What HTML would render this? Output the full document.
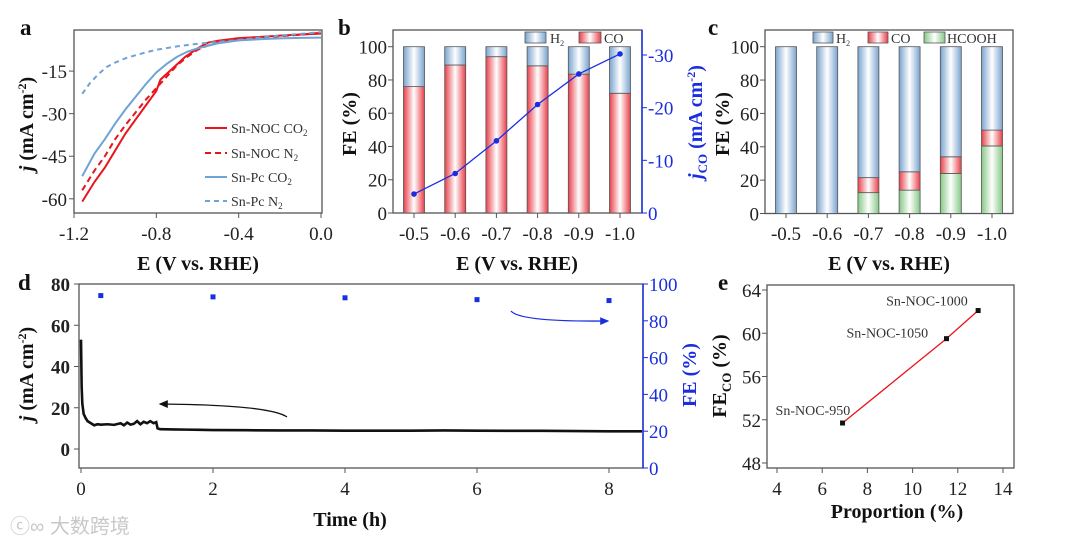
<!DOCTYPE html>
<html><head><meta charset="utf-8"><style>
body{margin:0;background:#fff;}
svg{display:block;font-family:"Liberation Serif",serif;}
.tk{font-size:19px;fill:#222;}
.tt{font-size:20px;font-weight:bold;fill:#111;}
.pl{font-size:23px;font-weight:bold;fill:#111;}
</style></head><body>
<svg id="fig" width="1080" height="546" viewBox="0 0 1080 546">
<defs>
<linearGradient id="gR" x1="0" x2="1"><stop offset="0" stop-color="#e8404a"/><stop offset="0.5" stop-color="#fff"/><stop offset="1" stop-color="#e8404a"/></linearGradient>
<linearGradient id="gB" x1="0" x2="1"><stop offset="0" stop-color="#7aa4cf"/><stop offset="0.5" stop-color="#fff"/><stop offset="1" stop-color="#7aa4cf"/></linearGradient>
<linearGradient id="gG" x1="0" x2="1"><stop offset="0" stop-color="#86c886"/><stop offset="0.5" stop-color="#fff"/><stop offset="1" stop-color="#86c886"/></linearGradient>
<marker id="ahK" markerWidth="8" markerHeight="8" refX="6" refY="4" orient="auto"><path d="M0,1 L7,4 L0,7 Z" fill="#111"/></marker>
<marker id="ahB" markerWidth="8" markerHeight="8" refX="6" refY="4" orient="auto"><path d="M0,1 L7,4 L0,7 Z" fill="#1a2ee0"/></marker>
</defs>
</svg>
<script>
// ---- Panel a data ----
const aE_nocCO2=[-1.16,-1.1,-1.05,-1.0,-0.95,-0.9,-0.85,-0.8,-0.78,-0.72,-0.66,-0.6,-0.55,-0.5,-0.4,-0.3,-0.2,-0.1,0];
const aJ_nocCO2=[-61,-54,-49,-43,-37,-32,-27,-22,-18,-14,-10,-7,-5,-4.3,-3.4,-3,-2.5,-2.1,-1.8];
const aE_nocN2=[-1.16,-1.1,-1.05,-1.0,-0.95,-0.9,-0.85,-0.8,-0.75,-0.7,-0.65,-0.6,-0.55,-0.5,-0.4,-0.3,-0.2,-0.1,0];
const aJ_nocN2=[-57,-50,-45,-39,-34,-29.5,-25,-21,-17,-13,-10,-7.5,-6,-5,-4,-3.3,-2.7,-2.2,-1.5];
const aE_pcCO2=[-1.16,-1.1,-1.05,-1.0,-0.95,-0.9,-0.85,-0.8,-0.75,-0.7,-0.65,-0.6,-0.5,-0.4,-0.3,-0.2,-0.1,0];
const aJ_pcCO2=[-52,-44,-39,-33.5,-28.5,-24,-19.5,-15.5,-12.5,-10,-8.2,-7,-5.2,-4.2,-3.8,-3.5,-3.3,-3.2];
const aE_pcN2=[-1.16,-1.12,-1.08,-1.04,-1.0,-0.95,-0.9,-0.85,-0.8,-0.7,-0.6,-0.5,-0.4,-0.3,-0.2,-0.1,0];
const aJ_pcN2=[-23,-19,-16,-13.5,-12,-10.5,-9.4,-8.4,-7.5,-6.3,-5.4,-4.7,-4,-3.2,-2.5,-1.9,-1.3];
const aXTicks=[-1.2,-0.8,-0.4,0.0];
const aXLabels=["-1.2","-0.8","-0.4","0.0"];
const aYTicks=[-15,-30,-45,-60];
// ---- Panel b data ----
const bCats=["-0.5","-0.6","-0.7","-0.8","-0.9","-1.0"];
const bCO=[76,89,94,88.5,83.5,72];
const bH2=[24,11,6,11.5,16.5,28];
const bJco=[3.6,7.5,13.7,20.6,26.4,30.2];
const bYTicks=[0,20,40,60,80,100];
const bRTicks=[0,10,20,30];
const bRLabels=["0","-10","-20","-30"];
// ---- Panel c data ----
const cCats=["-0.5","-0.6","-0.7","-0.8","-0.9","-1.0"];
const cHCOOH=[0,0,12.5,14,24,40.5];
const cCO=[0,0,9,11,10,9.5];
const cH2=[100,100,78.5,75,66,50];
// ---- Panel d data ----
const dTime=[0,0.01,0.02,0.04,0.07,0.1,0.15,0.2,0.25,0.3,0.4,0.5,0.6,0.65,0.7,0.75,0.8,0.85,0.9,0.95,1.0,1.05,1.1,1.14,1.16,1.2,1.4,1.6,1.8,2.0,2.5,3,3.5,4,4.5,5,5.5,6,6.5,7,7.5,8,8.5];
const dJ=[53,30,22,17,15,13.5,12.5,11.5,12,11.8,12,11.7,12.5,11.5,12.8,11.8,12.2,13.5,12,13.2,12.5,13.5,12.5,13,10,9.6,9.5,9.4,9.3,9.2,9.1,9.0,9.0,8.9,8.9,8.9,9.0,8.9,8.8,8.8,8.7,8.6,8.6];
const dFEt=[0.3,2,4,6,8];
const dFE=[93.7,93,92.5,91.5,91];
const dXTicks=[0,2,4,6,8];
const dYTicks=[0,20,40,60,80];
const dRTicks=[0,20,40,60,80,100];
// ---- Panel e data ----
const eX=[6.9,11.5,12.9];
const eY=[51.7,59.5,62.1];
const eNames=["Sn-NOC-950","Sn-NOC-1050","Sn-NOC-1000"];
const eXTicks=[4,6,8,10,12,14];
const eYTicks=[48,52,56,60,64];

const svg=document.getElementById('fig');
const NS='http://www.w3.org/2000/svg';
function mk(tag,attrs,parent){const e=document.createElementNS(NS,tag);for(const k in attrs)e.setAttribute(k,attrs[k]);(parent||svg).appendChild(e);return e;}
function lin(d0,d1,r0,r1){return v=>r0+(v-d0)/(d1-d0)*(r1-r0);}
function txt(s,x,y,cls,anchor,parent){const t=mk('text',{x:x,y:y,class:cls,'text-anchor':anchor||'middle'},parent);t.textContent=s;return t;}
function grp(){return mk('g',{});}

// ---------- Panel a ----------
{
const g=grp();


const X=lin(-1.2,0,74,321), Y=lin(0,-65,28.5,213);
const box=mk('rect',{x:74,y:30,width:248,height:183,fill:'none',stroke:'#555','stroke-width':1.3},g);


aXTicks.forEach((v,i)=>{mk('line',{x1:X(v),x2:X(v),y1:213,y2:218,stroke:'#555'},g);
 const t=txt(aXLabels[i],X(v),240,'tk','middle',g);});
aYTicks.forEach(v=>{mk('line',{x1:69,x2:74,y1:Y(v),y2:Y(v),stroke:'#555'},g);
 const t=txt(String(v),67,Y(v)+7,'tk','end',g);});
const series=[[aE_nocCO2,aJ_nocCO2,'#e8141c',''],[aE_nocN2,aJ_nocN2,'#e8141c','6,4'],[aE_pcCO2,aJ_pcCO2,'#6fa3d4',''],[aE_pcN2,aJ_pcN2,'#6fa3d4','5,4']];
const names=['line-sn-noc-co2','line-sn-noc-n2','line-sn-pc-co2','line-sn-pc-n2'];
series.forEach((s,i)=>{const p=mk('polyline',{points:s[0].map((e,k)=>X(e)+','+Y(s[1][k])).join(' '),fill:'none',stroke:s[2],'stroke-width':2,'stroke-dasharray':s[3]},g);
 });
const leg=['Sn-NOC CO','Sn-NOC N','Sn-Pc CO','Sn-Pc N'],subs=['2','2','2','2'],ly=[128,153,177,201];
leg.forEach((l,i)=>{mk('line',{x1:205,x2:227,y1:ly[i],y2:ly[i],stroke:series[i][2],'stroke-width':2,'stroke-dasharray':series[i][3]},g);
 const t=mk('text',{x:231,y:ly[i]+5,'font-size':14,fill:'#333'},g);t.innerHTML=l+'<tspan font-size="9" dy="3">'+subs[i]+'</tspan>';
 });
const xt=txt('E (V vs. RHE)',198,270,'tt','middle',g);
const yt=mk('text',{transform:'translate(33,124) rotate(-90)','text-anchor':'middle',class:'tt'},g);
yt.innerHTML='<tspan font-style="italic">j</tspan> (mA cm<tspan font-size="12" dy="-7">-2</tspan><tspan dy="7">)</tspan>';

const pl=txt('a',20,35,'pl','start',g);
}

// ---------- Panel b ----------
{
const g=grp();


const Y=lin(0,100,213,46.7), YR=lin(0,30,213,55);
const X=i=>414+i*41.2, w=21;
const box=mk('rect',{x:393,y:30,width:249,height:183,fill:'none',stroke:'#555','stroke-width':1.3},g);

mk('line',{x1:642,x2:642,y1:30,y2:213,stroke:'#1a2ee0','stroke-width':1.5},g);
bYTicks.forEach(v=>{mk('line',{x1:388,x2:393,y1:Y(v),y2:Y(v),stroke:'#555'},g);
 const t=txt(String(v),387,Y(v)+7,'tk','end',g);});
bRTicks.forEach((v,i)=>{mk('line',{x1:642,x2:647,y1:YR(v),y2:YR(v),stroke:'#1a2ee0'},g);
 const t=txt(bRLabels[i],648,YR(v)+7,'tk','start',g);t.style.fill='#1a2ee0';});
bCats.forEach((c,i)=>{
 const r1=mk('rect',{x:X(i)-w/2,y:Y(bCO[i]),width:w,height:Y(0)-Y(bCO[i]),fill:'url(#gR)',stroke:'#555','stroke-width':0.8},g);
 
 const r2=mk('rect',{x:X(i)-w/2,y:Y(bCO[i]+bH2[i]),width:w,height:Y(bCO[i])-Y(bCO[i]+bH2[i]),fill:'url(#gB)',stroke:'#555','stroke-width':0.8},g);
 
 mk('line',{x1:X(i),x2:X(i),y1:213,y2:218,stroke:'#555'},g);
 const t=txt(c,X(i),240,'tk','middle',g);});
const ln=mk('polyline',{points:bJco.map((v,i)=>X(i)+','+YR(v)).join(' '),fill:'none',stroke:'#1a2ee0','stroke-width':1.3},g);

bJco.forEach((v,i)=>{const c=mk('circle',{cx:X(i),cy:YR(v),r:2.8,fill:'#1a2ee0'},g);});
mk('rect',{x:525,y:32,width:21,height:11,fill:'url(#gB)',stroke:'#555','stroke-width':0.8},g);
const l1=mk('text',{x:550,y:43,'font-size':14,fill:'#333'},g);l1.innerHTML='H<tspan font-size="8" dy="3">2</tspan>';

mk('rect',{x:579,y:32,width:22,height:11,fill:'url(#gR)',stroke:'#555','stroke-width':0.8},g);
const l2=mk('text',{x:604,y:43,'font-size':14,fill:'#333'},g);l2.textContent='CO';

const xt=txt('E (V vs. RHE)',517,270,'tt','middle',g);
const yt=mk('text',{transform:'translate(356,124) rotate(-90)','text-anchor':'middle',class:'tt'},g);yt.textContent='FE (%)';

const rt=mk('text',{transform:'translate(702,122) rotate(-90)','text-anchor':'middle',class:'tt',style:'fill:#1a2ee0'},g);
rt.innerHTML='<tspan font-style="italic">j</tspan><tspan font-size="13" dy="5">CO</tspan><tspan dy="-5"> (mA cm</tspan><tspan font-size="12" dy="-7">-2</tspan><tspan dy="7">)</tspan>';

const pl=txt('b',338,35,'pl','start',g);
}

// ---------- Panel c ----------
{
const g=grp();


const Y=lin(0,100,213.5,46.7);
const X=i=>786+i*41.2, w=21;
const box=mk('rect',{x:765,y:30,width:248,height:183.5,fill:'none',stroke:'#555','stroke-width':1.3},g);

bYTicks.forEach(v=>{mk('line',{x1:760,x2:765,y1:Y(v),y2:Y(v),stroke:'#555'},g);
 const t=txt(String(v),759,Y(v)+7,'tk','end',g);});
cCats.forEach((c,i)=>{
 const segs=[[0,cHCOOH[i],'url(#gG)','hcooh'],[cHCOOH[i],cHCOOH[i]+cCO[i],'url(#gR)','co'],[cHCOOH[i]+cCO[i],cHCOOH[i]+cCO[i]+cH2[i],'url(#gB)','h2']];
 segs.forEach(s=>{if(s[1]-s[0]<=0)return;
  const r=mk('rect',{x:X(i)-w/2,y:Y(s[1]),width:w,height:Y(s[0])-Y(s[1]),fill:s[2],stroke:'#555','stroke-width':0.8},g);
  });
 mk('line',{x1:X(i),x2:X(i),y1:213.5,y2:218,stroke:'#555'},g);
 const t=txt(c,X(i),240,'tk','middle',g);});
mk('rect',{x:813,y:32,width:20,height:11,fill:'url(#gB)',stroke:'#555','stroke-width':0.8},g);
const l1=mk('text',{x:836,y:43,'font-size':14,fill:'#333'},g);l1.innerHTML='H<tspan font-size="8" dy="3">2</tspan>';

mk('rect',{x:868,y:32,width:20,height:11,fill:'url(#gR)',stroke:'#555','stroke-width':0.8},g);
const l2=mk('text',{x:891,y:43,'font-size':14,fill:'#333'},g);l2.textContent='CO';

mk('rect',{x:924,y:32,width:21,height:11,fill:'url(#gG)',stroke:'#555','stroke-width':0.8},g);
const l3=mk('text',{x:947,y:43,'font-size':14,fill:'#333'},g);l3.textContent='HCOOH';

const xt=txt('E (V vs. RHE)',889,270,'tt','middle',g);
const yt=mk('text',{transform:'translate(729,124) rotate(-90)','text-anchor':'middle',class:'tt'},g);yt.textContent='FE (%)';

const pl=txt('c',708,35,'pl','start',g);
}

// ---------- Panel d ----------
{
const g=grp();


const X=lin(0,8,81,609), Y=lin(0,80,449,284), YR=lin(0,100,468,284);
const box=mk('rect',{x:79,y:284,width:564,height:184,fill:'none',stroke:'#555','stroke-width':1.3},g);

mk('line',{x1:643,x2:643,y1:284,y2:468,stroke:'#1a2ee0','stroke-width':1.5},g);
dXTicks.forEach(v=>{mk('line',{x1:X(v),x2:X(v),y1:468,y2:473,stroke:'#555'},g);
 const t=txt(String(v),X(v),495,'tk','middle',g);});
dYTicks.forEach(v=>{mk('line',{x1:74,x2:79,y1:Y(v),y2:Y(v),stroke:'#555'},g);
 const t=txt(String(v),70,Y(v)+7,'tk','end',g);t.setAttribute('font-weight','bold');});
dRTicks.forEach(v=>{mk('line',{x1:643,x2:648,y1:YR(v),y2:YR(v),stroke:'#1a2ee0'},g);
 const t=txt(String(v),649,YR(v)+7,'tk','start',g);t.style.fill='#1a2ee0';});
const ln=mk('polyline',{points:dTime.map((t,i)=>X(t)+','+Y(dJ[i])).join(' '),fill:'none',stroke:'#111','stroke-width':2.6},g);

dFEt.forEach((t,i)=>{const r=mk('rect',{x:X(t)-2.5,y:YR(dFE[i])-2.5,width:5,height:5,fill:'#1a2ee0'},g);
 });
const a1=mk('path',{d:'M287,417 Q270,405 160,404',fill:'none',stroke:'#111','stroke-width':1.3,'marker-end':'url(#ahK)'},g);

const a2=mk('path',{d:'M511,311 Q520,322 608,321',fill:'none',stroke:'#1a2ee0','stroke-width':1.3,'marker-end':'url(#ahB)'},g);

const xt=txt('Time (h)',350,526,'tt','middle',g);
const yt=mk('text',{transform:'translate(33,374) rotate(-90)','text-anchor':'middle',class:'tt'},g);
yt.innerHTML='<tspan font-style="italic">j</tspan> (mA cm<tspan font-size="12" dy="-7">-2</tspan><tspan dy="7">)</tspan>';

const rt=mk('text',{transform:'translate(696,375) rotate(-90)','text-anchor':'middle',class:'tt',style:'fill:#1a2ee0'},g);rt.textContent='FE (%)';

const pl=txt('d',18,290,'pl','start',g);
const wm=mk('text',{x:10,y:533,'font-size':20,fill:'#c8c8c8','font-family':'"Liberation Sans","Noto Sans CJK SC",sans-serif'},g);wm.textContent='ⓒ∞ 大数跨境';

}

// ---------- Panel e ----------
{
const g=grp();


const X=lin(4,14,777,1003), Y=lin(48,64,463,290);
const box=mk('rect',{x:767,y:285,width:247,height:183,fill:'none',stroke:'#555','stroke-width':1.3},g);

eXTicks.forEach(v=>{mk('line',{x1:X(v),x2:X(v),y1:468,y2:473,stroke:'#555'},g);
 const t=txt(String(v),X(v),495,'tk','middle',g);});
eYTicks.forEach(v=>{mk('line',{x1:762,x2:767,y1:Y(v),y2:Y(v),stroke:'#555'},g);
 const t=txt(String(v),761,Y(v)+7,'tk','end',g);});
const ln=mk('polyline',{points:eX.map((x,i)=>X(x)+','+Y(eY[i])).join(' '),fill:'none',stroke:'#e8141c','stroke-width':1.3},g);

const off=[[-67,-8],[-100,-1],[-92,-5]];
eX.forEach((x,i)=>{const r=mk('rect',{x:X(x)-2.5,y:Y(eY[i])-2.5,width:5,height:5,fill:'#111'},g);
 
 const t=mk('text',{x:X(x)+off[i][0],y:Y(eY[i])+off[i][1],'font-size':14,fill:'#333'},g);t.textContent=eNames[i];
 });
const xt=txt('Proportion (%)',897,518,'tt','middle',g);
const yt=mk('text',{transform:'translate(726,376) rotate(-90)','text-anchor':'middle',class:'tt'},g);
yt.innerHTML='FE<tspan font-size="13" dy="5">CO</tspan><tspan dy="-5"> (%)</tspan>';

const pl=txt('e',718,290,'pl','start',g);
}
</script>
</body></html>
